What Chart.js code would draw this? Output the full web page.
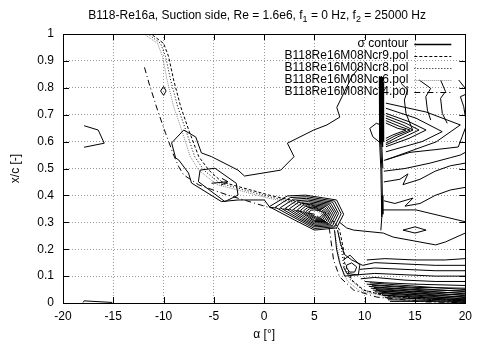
<!DOCTYPE html>
<html>
  <head>
    <title>B118-Re16a, Suction side</title>
    <script src="https://cdn.jsdelivr.net/npm/chart.js"></script>
    <style>
      body {
        margin: 0;
        padding: 0;
        background: #ffffff;
      }
      #myChart {
        display: block;
      }
    </style>
  </head>
  <body>
    <canvas id="myChart" width="478" height="347"></canvas>
    <script>
      // tick values
      const xTicks = [-20, -15, -10, -5, 0, 5, 10, 15, 20];
      const yTicks = [0, 0.1, 0.2, 0.3, 0.4, 0.5, 0.6, 0.7, 0.8, 0.9, 1];

      // title, enhanced text: [text, isSubscript]
      const titleParts = [
        ["B118-Re16a, Suction side, Re = 1.6e6, f", 0],
        ["1", 1],
        [" = 0 Hz, f", 0],
        ["2", 1],
        [" = 25000 Hz", 0],
      ];
      const legendLabels = [
        "σ contour",
        "B118Re16M08Ncr9.pol",
        "B118Re16M08Ncr8.pol",
        "B118Re16M08Ncr6.pol",
        "B118Re16M08Ncr4.pol",
      ];

      // transition curves from the polars, [alpha, x/c]
      const ncr9 = [[-11.1,0.996],[-10.0,0.965],[-9.5,0.916],[-9.0,0.829],[-8.3,0.73],[-7.5,0.643],[-6.5,0.544],[-5.5,0.494],[-4.2,0.45],[-2.3,0.43],[0.6,0.4],[3,0.38],[5,0.36],[7.0,0.3],[7.5,0.271],[7.9,0.197],[8.0,0.149],[8.7,0.086],[9.9,0.048],[12.1,0.026],[16,0.015],[20,0.007]];
      const ncr8 = [[-11.4,0.996],[-10.3,0.965],[-9.8,0.916],[-9.3,0.829],[-8.6,0.73],[-7.8,0.643],[-6.9,0.544],[-6.0,0.494],[-4.4,0.445],[-2.4,0.425],[0.5,0.395],[3,0.375],[5,0.355],[6.8,0.3],[7.3,0.271],[7.7,0.2],[7.9,0.14],[8.6,0.085],[9.8,0.048],[12.2,0.028],[16,0.014],[20,0.006]];
      const ncr6 = [[-11.8,0.996],[-10.6,0.965],[-10.1,0.916],[-9.65,0.829],[-9.0,0.73],[-8.2,0.643],[-7.35,0.544],[-6.5,0.494],[-4.7,0.44],[-2.6,0.42],[0.4,0.39],[3,0.37],[5,0.35],[6.5,0.3],[7.0,0.271],[7.3,0.2],[7.6,0.14],[8.3,0.08],[9.5,0.045],[12,0.025],[16,0.012],[20,0.005]];
      const ncr4 = [[-11.9,0.876],[-11.45,0.817],[-10.6,0.717],[-9.8,0.631],[-9.0,0.55],[-8.5,0.507],[-8.0,0.476],[-6.5,0.439],[-3.6,0.401],[0.3,0.357],[3,0.345],[5,0.33],[6.2,0.3],[6.5,0.271],[6.9,0.16],[7.5,0.097],[8.9,0.048],[11.2,0.022],[16,0.004],[20,0.001]];

      // sigma contours, one polyline per entry, [alpha, x/c]
      const contoursLeft = [
        [[-17.9,0.659],[-16.5,0.643],[-15.9,0.594],[-17.9,0.579]],
        [[-10.3,0.788],[-10.0,0.805],[-9.75,0.788],[-10.0,0.772],[-10.3,0.788]],
        [[-18.0,0.002],[-17.9,0.008],[-15.1,0.002]],
      ];
      const contoursBubble = [
        [[-9.2,0.595],[-8.0,0.643],[-6.8,0.617],[-6.24,0.558],[-5.23,0.544],[-2.6,0.494],[-1.95,0.472],[1.65,0.494],[2.97,0.544],[2.31,0.594],[4.93,0.643],[6.24,0.662],[7.52,0.691],[7.22,0.727],[8.7,0.84],[9.4,0.874]],
        [[-9.2,0.595],[-8.8,0.539],[-8.5,0.532],[-7.52,0.483],[-7.22,0.446],[-4.25,0.377],[-2.6,0.383],[0.02,0.383],[0.64,0.352]],
        [[-6.37,0.494],[-4.89,0.501],[-2.77,0.445],[-2.6,0.401],[-3.91,0.377],[-6.54,0.451],[-6.37,0.494]],
        [[-5.23,0.445],[-3.6,0.451],[-4.2,0.463]],
        [[-3.6,0.451],[-4.3,0.438]],
      ];
      const contoursCore = [
        [[0.5,0.358],[2.3,0.398],[4.1,0.401],[7.2,0.383],[7.9,0.33],[7.2,0.279],[5.0,0.271],[3.0,0.309],[0.5,0.358]],
        [[1.1,0.356],[2.6,0.392],[4.2,0.395],[7.0,0.379],[7.65,0.332],[7.0,0.283],[5.0,0.277],[3.3,0.311],[1.1,0.356]],
        [[1.6,0.354],[2.9,0.386],[4.2,0.389],[6.8,0.375],[7.4,0.333],[6.8,0.287],[5.0,0.283],[3.5,0.313],[1.6,0.354]],
        [[2.1,0.352],[3.2,0.38],[4.3,0.383],[6.6,0.371],[7.2,0.334],[6.6,0.291],[5.0,0.288],[3.7,0.315],[2.1,0.352]],
        [[2.5,0.35],[3.4,0.374],[4.4,0.377],[6.45,0.367],[7.0,0.335],[6.45,0.295],[5.0,0.293],[3.9,0.317],[2.5,0.35]],
        [[2.9,0.348],[3.7,0.369],[4.5,0.371],[6.3,0.363],[6.8,0.335],[6.3,0.299],[5.0,0.298],[4.1,0.319],[2.9,0.348]],
        [[3.3,0.346],[3.9,0.364],[4.6,0.366],[6.15,0.359],[6.6,0.335],[6.15,0.303],[5.0,0.303],[4.3,0.321],[3.3,0.346]],
        [[3.6,0.344],[4.1,0.359],[4.7,0.361],[6.0,0.355],[6.45,0.335],[6.0,0.307],[5.0,0.307],[4.4,0.323],[3.6,0.344]],
        [[3.9,0.342],[4.3,0.354],[4.8,0.356],[5.85,0.351],[6.3,0.335],[5.85,0.311],[5.1,0.311],[4.5,0.325],[3.9,0.342]],
        [[4.15,0.34],[4.5,0.35],[4.9,0.351],[5.7,0.347],[6.15,0.335],[5.7,0.315],[5.15,0.315],[4.6,0.327],[4.15,0.34]],
        [[4.4,0.338],[4.7,0.345],[5.0,0.346],[5.55,0.343],[6.0,0.335],[5.55,0.319],[5.2,0.319],[4.7,0.329],[4.4,0.338]],
      ];
      const contoursBar = [
        [[11.45,0.84],[11.45,0.7],[11.5,0.6],[11.6,0.5],[11.65,0.4],[11.7,0.32],[11.6,0.27]],
        [[11.55,0.84],[11.55,0.7],[11.6,0.6],[11.7,0.5],[11.75,0.4],[11.8,0.33]],
        [[11.65,0.84],[11.65,0.7],[11.7,0.6],[11.8,0.5]],
        [[11.75,0.84],[11.75,0.7],[11.8,0.58]],
        [[11.85,0.82],[11.85,0.7],[11.9,0.6]],
        [[10.5,0.649],[11.15,0.668],[11.6,0.662],[11.6,0.594],[10.8,0.618],[10.5,0.649]],
      ];
      const contoursChevron = [
        [[12.1,0.669],[13.3,0.649],[14.1,0.643],[12.8,0.625],[12.1,0.612]],
        [[12.1,0.678],[13.5,0.656],[14.5,0.643],[13.0,0.621],[12.1,0.603]],
        [[12.1,0.687],[13.8,0.662],[14.8,0.643],[13.3,0.618],[12.1,0.594]],
        [[12.1,0.696],[14.1,0.668],[15.4,0.643],[13.8,0.615],[12.1,0.588]],
        [[12.1,0.705],[14.4,0.674],[16.1,0.643],[14.4,0.612],[12.1,0.581]],
        [[12.1,0.724],[15.1,0.687],[17.7,0.637],[15.7,0.6],[12.1,0.562]],
        [[12.1,0.743],[16.1,0.71],[19.5,0.662],[17.1,0.599],[12.1,0.532]],
        [[13.6,0.817],[14.27,0.792],[13.94,0.755],[14.1,0.705],[14.76,0.643]],
        [[15.41,0.829],[16.56,0.798],[16.07,0.767],[16.23,0.717],[16.56,0.68]],
        [[17.54,0.829],[18.03,0.786],[17.54,0.761],[17.71,0.705],[18.2,0.668]],
        [[19.34,0.829],[20,0.798]],
        [[20,0.775],[19.51,0.767],[19.84,0.73],[20,0.693]],
      ];
      const contoursRight = [
        [[11.9,0.53],[14.5,0.56],[17,0.57],[19.3,0.58],[19.7,0.62],[20,0.65]],
        [[11.9,0.49],[14,0.5],[16.5,0.52],[18.5,0.54],[19.5,0.55],[20,0.56]],
        [[11.9,0.45],[13.5,0.46],[14.3,0.48],[13.8,0.44],[15.5,0.46],[17,0.49],[18.5,0.51],[20,0.52]],
        [[11.9,0.38],[13.0,0.37],[14.8,0.39],[14.0,0.36],[15.5,0.37],[17,0.4],[18.5,0.42],[20,0.43]],
        [[11.8,0.346],[15.1,0.346],[20,0.302]],
        [[7.5,0.3],[8.2,0.279],[8.9,0.271],[11.84,0.26],[12.83,0.245],[17.05,0.216],[18.03,0.227],[20,0.26]],
        [[13.8,0.271],[15.0,0.283],[16.1,0.271],[15.0,0.26],[13.8,0.271]],
      ];
      const contoursBottom = [
        [[10.2,0.16],[12,0.165],[15,0.16],[18,0.16],[20,0.165]],
        [[9.8,0.14],[11,0.15],[14,0.145],[17,0.14],[20,0.14]],
        [[9.5,0.125],[11,0.13],[14,0.125],[17,0.12],[20,0.12]],
        [[9.3,0.105],[11,0.11],[14,0.105],[17,0.1],[20,0.1]],
        [[9.6,0.09],[11,0.095],[14,0.085],[17,0.08],[20,0.08]],
        [[10,0.08],[12,0.075],[15,0.07],[20,0.065]],
        [[10.5,0.075],[13,0.068],[16,0.06],[20,0.05]],
        [[10.2,0.07],[12,0.065],[15,0.058],[20,0.055]],
        [[10.7,0.066],[13,0.06],[16,0.052],[20,0.042]],
        [[10.4,0.062],[12,0.057],[15,0.05],[20,0.045]],
        [[10.9,0.058],[13,0.053],[16,0.045],[20,0.034]],
        [[10.6,0.055],[12.5,0.05],[15,0.043],[20,0.037]],
        [[11.1,0.05],[13.5,0.045],[16.5,0.038],[20,0.027]],
        [[10.8,0.048],[13,0.042],[16,0.035],[20,0.03]],
        [[11.4,0.044],[14,0.038],[17,0.03],[20,0.02]],
        [[11,0.042],[13,0.036],[16,0.029],[20,0.023]],
        [[11.7,0.038],[14,0.032],[17,0.024],[20,0.014]],
        [[11.3,0.036],[13.5,0.03],[16,0.023],[20,0.017]],
        [[11.7,0.03],[14,0.024],[17,0.017],[20,0.012]],
        [[12.0,0.028],[15,0.022],[18,0.015],[20,0.01]],
        [[12,0.02],[16,0.015],[20,0.008]],
        [[12.3,0.012],[16,0.01],[20,0.004]],
        [[12.5,0.006],[16,0.006],[20,0.002]],
        [[8.2,0.141],[8.7,0.149],[9.2,0.134],[9.0,0.115],[8.5,0.115],[8.2,0.13],[8.2,0.141]],
        [[7.88,0.16],[8.53,0.178],[9.51,0.141],[9.36,0.104],[8.21,0.11],[7.88,0.135]],
        [[7.3,0.27],[7.6,0.22],[8.0,0.18],[8.7,0.16],[9.8,0.14]],
        [[7.0,0.27],[7.2,0.2],[7.5,0.15],[8.0,0.1],[9.3,0.105]],
      ];

      const FONT = '"Liberation Sans", Arial, Helvetica, sans-serif';
      const toPts = (line) => line.map(([a, c]) => ({ x: a, y: c }));

      const datasets = [];
      [contoursLeft, contoursBubble, contoursCore, contoursBar, contoursChevron, contoursRight, contoursBottom].forEach((group) =>
        group.forEach((line) =>
          datasets.push({
            data: toPts(line),
            borderColor: "#000000",
            borderWidth: 1,
          })
        )
      );
      // polar transition curves, drawn over the contours
      datasets.push({ data: toPts(ncr9), borderColor: "#000000", borderWidth: 1, borderDash: [3, 2] });
      datasets.push({ data: toPts(ncr8), borderColor: "#000000", borderWidth: 1, borderDash: [1, 2] });
      datasets.push({ data: toPts(ncr6), borderColor: "#8a8a8a", borderWidth: 1, borderDash: [1, 1] });
      datasets.push({ data: toPts(ncr4), borderColor: "#000000", borderWidth: 1, borderDash: [6, 3, 1, 3] });

      // legend samples, gnuplot style (text right aligned, sample on the right)
      const legendStyles = [
        { color: "#000000", dash: [] },
        { color: "#000000", dash: [3, 2] },
        { color: "#000000", dash: [1, 2] },
        { color: "#8a8a8a", dash: [1, 1] },
        { color: "#000000", dash: [6, 3, 1, 3] },
      ];

      const gnuplotFrame = {
        id: "gnuplotFrame",
        afterDatasetsDraw(chart) {
          const { ctx, chartArea: a, scales } = chart;
          const sx = scales.x;
          const sy = scales.y;
          ctx.save();
          ctx.strokeStyle = "#000000";
          ctx.lineWidth = 1;
          ctx.setLineDash([]);
          ctx.strokeRect(Math.round(a.left) + 0.5, Math.round(a.top) + 0.5, Math.round(a.right - a.left), Math.round(a.bottom - a.top));
          // inward major ticks on all four sides
          ctx.beginPath();
          sx.ticks.forEach((t) => {
            const px = Math.round(sx.getPixelForValue(t.value)) + 0.5;
            ctx.moveTo(px, a.bottom);
            ctx.lineTo(px, a.bottom - 6);
            ctx.moveTo(px, a.top);
            ctx.lineTo(px, a.top + 6);
          });
          sy.ticks.forEach((t) => {
            const py = Math.round(sy.getPixelForValue(t.value)) + 0.5;
            ctx.moveTo(a.left, py);
            ctx.lineTo(a.left + 6, py);
            ctx.moveTo(a.right, py);
            ctx.lineTo(a.right - 6, py);
          });
          ctx.stroke();

          // key
          ctx.font = "12px " + FONT;
          ctx.fillStyle = "#000000";
          ctx.textAlign = "right";
          ctx.textBaseline = "middle";
          legendLabels.forEach((label, i) => {
            const yy = a.top + 9.5 + i * 12.1;
            ctx.fillText(label, a.right - 57, yy);
            const st = legendStyles[i];
            ctx.strokeStyle = st.color;
            ctx.setLineDash(st.dash);
            ctx.lineWidth = i === 0 ? 1.5 : 1;
            ctx.beginPath();
            ctx.moveTo(a.right - 51, Math.round(yy) + 0.5);
            ctx.lineTo(a.right - 14, Math.round(yy) + 0.5);
            ctx.stroke();
          });

          // title with subscripts
          const mainFont = "12px " + FONT;
          const subFont = "9px " + FONT;
          let total = 0;
          titleParts.forEach(([t, sub]) => {
            ctx.font = sub ? subFont : mainFont;
            total += ctx.measureText(t).width;
          });
          let tx = (a.left + a.right) / 2 - total / 2 - 7;
          ctx.textAlign = "left";
          ctx.textBaseline = "alphabetic";
          ctx.setLineDash([]);
          titleParts.forEach(([t, sub]) => {
            ctx.font = sub ? subFont : mainFont;
            ctx.fillText(t, tx, sub ? 22 : 19);
            tx += ctx.measureText(t).width;
          });
          ctx.restore();
        },
      };

      const axisFont = { family: FONT, size: 12 };

      new Chart(document.getElementById("myChart"), {
        type: "scatter",
        data: { datasets: datasets },
        options: {
          responsive: false,
          animation: false,
          showLine: true,
          layout: { padding: { left: 0, right: 8, top: 34, bottom: 0 } },
          elements: {
            point: { radius: 0, hoverRadius: 0 },
            line: { tension: 0, fill: false },
          },
          plugins: {
            legend: { display: false },
            tooltip: { enabled: false },
            title: { display: false },
          },
          scales: {
            x: {
              type: "linear",
              min: -20,
              max: 20,
              afterBuildTicks: (s) => {
                s.ticks = xTicks.map((v) => ({ value: v }));
              },
              afterFit: (s) => {
                s.height = 44;
              },
              grid: { color: "#9a9a9a", lineWidth: 1, drawTicks: false },
              border: { display: false, dash: [1, 2] },
              ticks: {
                color: "#000000",
                font: axisFont,
                padding: 6,
                maxRotation: 0,
                autoSkip: false,
                callback: (v) => String(v),
              },
              title: {
                display: true,
                text: "α [°]",
                color: "#000000",
                font: axisFont,
                padding: { top: 2, bottom: 5 },
              },
            },
            y: {
              type: "linear",
              min: 0,
              max: 1,
              afterBuildTicks: (s) => {
                s.ticks = yTicks.map((v) => ({ value: v }));
              },
              afterFit: (s) => {
                s.width = 63;
              },
              grid: { color: "#9a9a9a", lineWidth: 1, drawTicks: false },
              border: { display: false, dash: [1, 2] },
              ticks: {
                color: "#000000",
                font: axisFont,
                padding: 9,
                autoSkip: false,
                callback: (v) => String(v),
              },
              title: {
                display: true,
                text: "x/c [-]",
                color: "#000000",
                font: axisFont,
                padding: { top: 8, bottom: 2 },
              },
            },
          },
        },
        plugins: [gnuplotFrame],
      });
    </script>
  </body>
</html>
